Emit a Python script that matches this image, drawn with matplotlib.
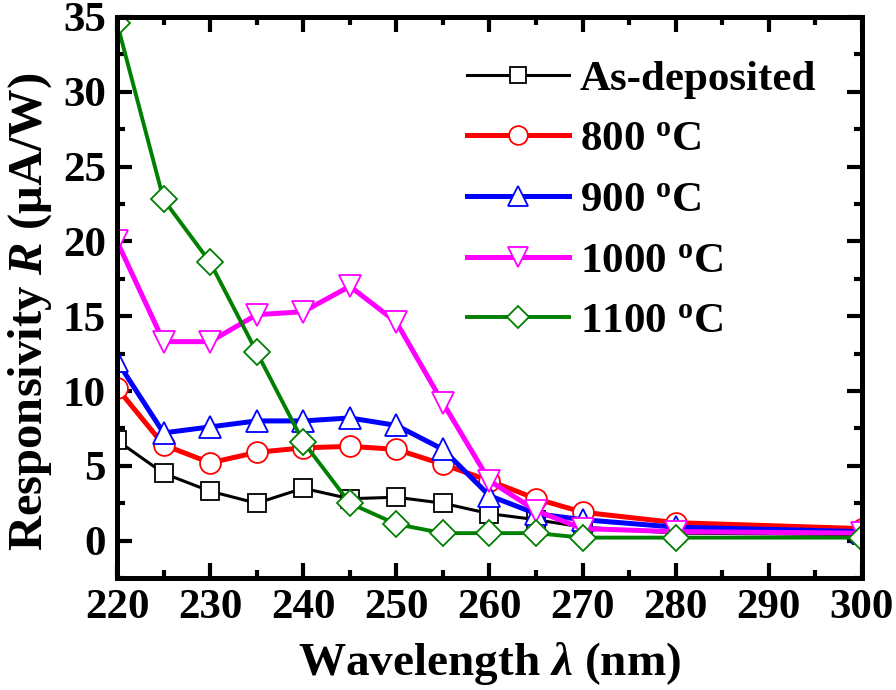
import matplotlib
matplotlib.use("Agg")
import matplotlib.pyplot as plt
from matplotlib.ticker import MultipleLocator

plt.rcParams['font.family'] = ['Liberation Serif', 'DejaVu Serif']
plt.rcParams['font.weight'] = 'bold'
plt.rcParams['mathtext.fontset'] = 'custom'
plt.rcParams['mathtext.rm'] = 'Liberation Serif:bold'
plt.rcParams['mathtext.it'] = 'Liberation Serif:italic:bold'
plt.rcParams['mathtext.bf'] = 'Liberation Serif:bold'

wavelength = [220, 225, 230, 235, 240, 245, 250, 255, 260, 265, 270, 280, 300]
as_deposited = [6.7, 4.5, 3.3, 2.5, 3.5, 2.8, 2.9, 2.5, 1.8, 1.4, 0.9, 0.5, 0.4]
t800 = [10.2, 6.4, 5.2, 5.9, 6.2, 6.3, 6.1, 5.1, 4.0, 2.8, 1.9, 1.2, 0.8]
t900 = [12.0, 7.2, 7.6, 8.0, 8.0, 8.2, 7.7, 6.1, 3.0, 1.8, 1.4, 0.9, 0.6]
t1000 = [20.0, 13.3, 13.3, 15.1, 15.3, 17.0, 14.6, 9.2, 4.0, 2.0, 0.8, 0.6, 0.5]
t1100 = [34.6, 22.8, 18.6, 12.6, 6.6, 2.5, 1.1, 0.5, 0.5, 0.5, 0.2, 0.2, 0.2]

labels = ['As-deposited', '800 $^\\mathrm{o}$C', '900 $^\\mathrm{o}$C',
          '1000 $^\\mathrm{o}$C', '1100 $^\\mathrm{o}$C']

fig = plt.figure(figsize=(8.96, 6.9), dpi=100)
ax = fig.add_axes([0.1306, 0.1623, 0.8314, 0.8131])

series = [
    (as_deposited, 'black', 's', 2.2, 13),
    (t800, 'red', 'o', 3.6, 15),
    (t900, 'blue', '^', 3.6, 16),
    (t1000, 'magenta', 'v', 3.6, 16),
    (t1100, 'green', 'D', 2.8, 13),
]
for (vals, col, mk, lw, ms), lab in zip(series, labels):
    ax.plot(wavelength, vals, color=col, marker=mk, lw=lw, ms=ms,
            mfc='white', mec=col, mew=1.3, label=lab)

ax.set_xlim(220, 300)
ax.set_ylim(-2.5, 35)
ax.xaxis.set_major_locator(MultipleLocator(10))
ax.xaxis.set_minor_locator(MultipleLocator(5))
ax.yaxis.set_major_locator(MultipleLocator(5))
ax.yaxis.set_minor_locator(MultipleLocator(2.5))
ax.tick_params(which='both', direction='in', top=True, right=True,
               labelsize=31, width=3, pad=8)
ax.tick_params(which='major', length=11)
ax.tick_params(which='minor', length=6)
for lbl in ax.get_xticklabels() + ax.get_yticklabels():
    lbl.set_fontweight('bold')
for s in ax.spines.values():
    s.set_linewidth(3.6)

ax.set_xlabel('Wavelength $\\lambda$ (nm)', fontsize=34, fontweight='bold', labelpad=9)
ax.set_ylabel('Responsivity $R$ (μA/W)', fontsize=35, fontweight='bold')
ax.yaxis.set_label_coords(-0.085, 0.475)

leg = ax.legend(loc='upper right', bbox_to_anchor=(0.962, 0.955), frameon=False,
                fontsize=31, handlelength=2.37, handletextpad=0.25,
                labelspacing=0.5, borderaxespad=0, markerscale=0.9)

fig.savefig('out.png', dpi=100)
